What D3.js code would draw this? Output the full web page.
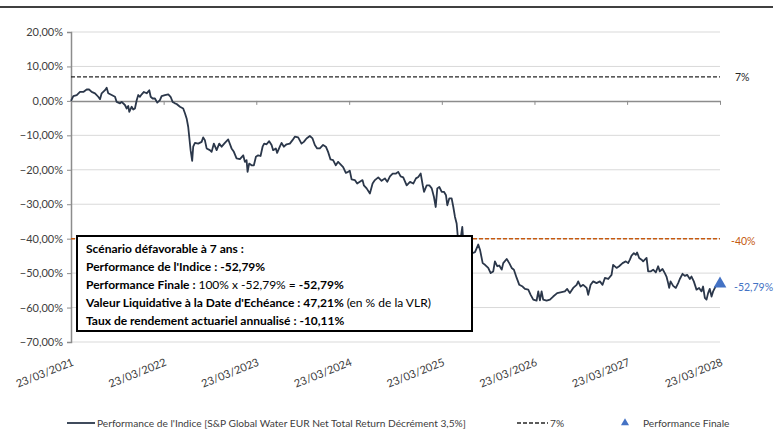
<!DOCTYPE html>
<html>
<head>
<meta charset="utf-8">
<script src="https://cdn.jsdelivr.net/npm/d3@7"></script>
<style>
  body { margin: 0; background: #fff; }
  svg { display: block; font-family: Lato, "Open Sans", sans-serif; }
</style>
</head>
<body>
<div id="chart"></div>
<script>
var width = 774, height = 431

// y axis ticks (%)
var yTicks = [20, 10, 0, -10, -20, -30, -40, -50, -60, -70]
// anniversary dates on the x axis
var dateLabels = ["23/03/2021", "23/03/2022", "23/03/2023", "23/03/2024", "23/03/2025", "23/03/2026", "23/03/2027", "23/03/2028"]

// reference levels
var couponLevel = 7
var barrierLevel = -40
var finalPerf = -52.79

// index performance (decimal year / %)
var indexYears = [
  2021.222, 2021.247, 2021.284, 2021.319, 2021.355, 2021.391, 2021.419, 2021.445, 2021.481, 2021.516,
  2021.535, 2021.553, 2021.589, 2021.607, 2021.624, 2021.661, 2021.697, 2021.715, 2021.751, 2021.769,
  2021.804, 2021.823, 2021.840, 2021.851, 2021.877, 2021.894, 2021.912, 2021.931, 2021.948, 2021.966,
  2021.985, 2022.009, 2022.039, 2022.067, 2022.082, 2022.103, 2022.128, 2022.153, 2022.182, 2022.200,
  2022.236, 2022.272, 2022.297, 2022.319, 2022.344, 2022.362, 2022.398, 2022.433, 2022.452, 2022.470,
  2022.487, 2022.498, 2022.513, 2022.530, 2022.541, 2022.560, 2022.595, 2022.632, 2022.649, 2022.667,
  2022.686, 2022.721, 2022.740, 2022.764, 2022.794, 2022.822, 2022.848, 2022.883, 2022.919, 2022.955,
  2022.980, 2023.009, 2023.045, 2023.081, 2023.099, 2023.117, 2023.128, 2023.145, 2023.171, 2023.196,
  2023.218, 2023.242, 2023.268, 2023.290, 2023.307, 2023.333, 2023.361, 2023.387, 2023.404, 2023.433,
  2023.447, 2023.476, 2023.495, 2023.520, 2023.549, 2023.584, 2023.613, 2023.638, 2023.674, 2023.710,
  2023.735, 2023.764, 2023.800, 2023.829, 2023.854, 2023.879, 2023.908, 2023.943, 2023.973, 2023.997,
  2024.023, 2024.051, 2024.080, 2024.105, 2024.131, 2024.159, 2024.188, 2024.213, 2024.231, 2024.250,
  2024.285, 2024.310, 2024.339, 2024.368, 2024.382, 2024.412, 2024.447, 2024.476, 2024.501, 2024.537,
  2024.573, 2024.609, 2024.634, 2024.663, 2024.692, 2024.728, 2024.752, 2024.778, 2024.806, 2024.843,
  2024.879, 2024.914, 2024.943, 2024.968, 2024.994, 2025.016, 2025.030, 2025.059, 2025.087, 2025.113,
  2025.137, 2025.156, 2025.173, 2025.195, 2025.221, 2025.245, 2025.267, 2025.281, 2025.303, 2025.328,
  2025.346, 2025.364, 2025.382, 2025.393, 2025.407, 2025.425, 2025.443, 2025.461, 2025.483, 2025.507,
  2025.526, 2025.544, 2025.580, 2025.615, 2025.634, 2025.663, 2025.688, 2025.723, 2025.749, 2025.777,
  2025.795, 2025.820, 2025.842, 2025.868, 2025.885, 2025.922, 2025.950, 2025.976, 2026.000, 2026.030,
  2026.058, 2026.094, 2026.119, 2026.155, 2026.181, 2026.209, 2026.245, 2026.263, 2026.281, 2026.299,
  2026.316, 2026.353, 2026.389, 2026.424, 2026.467, 2026.515, 2026.550, 2026.575, 2026.604, 2026.640,
  2026.677, 2026.694, 2026.720, 2026.748, 2026.785, 2026.802, 2026.828, 2026.856, 2026.892, 2026.928,
  2026.957, 2026.982, 2027.018, 2027.054, 2027.071, 2027.108, 2027.136, 2027.173, 2027.208, 2027.233,
  2027.252, 2027.270, 2027.295, 2027.316, 2027.330, 2027.352, 2027.378, 2027.395, 2027.432, 2027.449,
  2027.475, 2027.503, 2027.532, 2027.557, 2027.575, 2027.604, 2027.629, 2027.647, 2027.665, 2027.676,
  2027.691, 2027.719, 2027.748, 2027.773, 2027.791, 2027.820, 2027.845, 2027.870, 2027.899, 2027.917,
  2027.942, 2027.971, 2027.999, 2028.025, 2028.042, 2028.061, 2028.079, 2028.096, 2028.114, 2028.133,
  2028.150, 2028.176, 2028.222
]
var indexValues = [
  0.0, 1.4, 1.7, 2.6, 2.6, 3.3, 3.3, 2.6, 2.2, 1.2,
  0.5, 2.2, 3.1, 3.8, 2.2, 1.7, 1.2, -0.3, -0.7, -0.3,
  -1.2, -2.2, -1.5, -3.2, -1.7, -2.5, -2.2, 0.2, 1.7, 1.2,
  1.9, 2.6, 2.2, 3.1, 1.2, 0.7, 0.7, -0.5, 0.2, 1.4,
  1.7, 1.9, 1.2, -0.3, -0.7, -0.9, -1.7, -2.2, -3.6, -5.1,
  -7.5, -10.4, -14.3, -17.4, -13.3, -12.2, -12.4, -11.9, -10.6, -11.4,
  -13.8, -14.3, -14.8, -12.4, -14.3, -12.4, -13.3, -12.2, -11.2, -13.8,
  -14.8, -16.7, -16.9, -15.8, -17.7, -17.2, -20.6, -18.2, -18.7, -18.7,
  -16.2, -15.8, -16.0, -13.3, -12.4, -12.6, -11.7, -12.8, -14.3, -13.8,
  -15.1, -13.3, -12.2, -13.3, -12.6, -12.4, -11.4, -10.4, -10.6, -12.4,
  -11.9, -10.9, -10.2, -10.9, -12.8, -13.8, -13.8, -12.8, -13.3, -14.8,
  -17.0, -17.2, -18.7, -17.7, -18.4, -19.2, -20.9, -20.6, -20.3, -22.8,
  -23.0, -24.0, -23.5, -23.0, -24.5, -25.4, -26.9, -24.0, -23.0, -22.2,
  -23.2, -22.5, -23.5, -21.9, -21.1, -21.1, -20.6, -21.9, -22.2, -24.5,
  -23.5, -24.0, -22.5, -22.1, -21.1, -24.5, -26.4, -24.5, -24.5, -25.4,
  -27.9, -30.8, -25.4, -25.0, -26.4, -26.4, -27.4, -30.3, -28.3, -28.3,
  -30.8, -33.7, -35.6, -39.0, -43.9, -40.0, -36.6, -43.9, -41.0, -41.4,
  -39.5, -44.3, -43.9, -41.7, -43.2, -47.1, -47.6, -48.5, -50.0, -49.5,
  -46.6, -48.0, -47.8, -49.0, -47.1, -45.9, -47.1, -48.5, -49.0, -51.4,
  -53.4, -53.9, -54.6, -54.8, -56.3, -57.7, -58.0, -55.3, -57.9, -55.3,
  -57.7, -58.0, -57.7, -56.8, -55.8, -55.5, -55.3, -54.6, -55.8, -54.3,
  -53.4, -52.4, -53.9, -53.4, -54.3, -56.3, -53.4, -52.4, -52.9, -52.4,
  -53.4, -51.4, -51.7, -50.5, -47.6, -48.5, -48.0, -47.1, -46.6, -47.1,
  -46.1, -44.9, -44.2, -44.7, -44.0, -45.6, -46.1, -46.6, -45.6, -49.5,
  -49.5, -49.0, -49.8, -48.0, -49.5, -48.8, -50.0, -51.0, -52.9, -54.3,
  -52.4, -53.7, -54.3, -52.9, -51.7, -50.2, -50.8, -50.5, -51.7, -51.0,
  -52.4, -54.8, -54.3, -55.3, -53.9, -57.2, -57.7, -55.8, -54.6, -56.8,
  -55.3, -53.9, -52.79
]

var boxLines = [
  [{t: "Scénario défavorable à 7 ans :", b: true}],
  [{t: "Performance de l'Indice : -52,79%", b: true}],
  [{t: "Performance Finale : ", b: true}, {t: "100% x -52,79% = ", b: false}, {t: "-52,79%", b: true}],
  [{t: "Valeur Liquidative à la Date d'Echéance : 47,21% ", b: true}, {t: "(en % de la VLR)", b: false}],
  [{t: "Taux de rendement actuariel annualisé : -10,11%", b: true}]
]

var legendLabels = ["Performance de l'Indice [S&P Global Water EUR Net Total Return Décrément 3,5%]", "7%", "Performance Finale"]

var parseDate = d3.timeParse("%d/%m/%Y")
function yearToDate(t) {
  var yr = Math.floor(t)
  var s = Date.UTC(yr, 0, 1), e = Date.UTC(yr + 1, 0, 1)
  return new Date(s + (t - yr) * (e - s))
}
var series = indexYears.map(function(t, i) { return {date: yearToDate(t), value: indexValues[i]} })
var tickDates = dateLabels.map(parseDate)

var x = d3.scaleTime().domain([tickDates[0], tickDates[tickDates.length - 1]]).range([71, 720])
var y = d3.scaleLinear().domain([-70, 20]).range([342, 32])

var svg = d3.select("#chart").append("svg").attr("width", width).attr("height", height)

// top border
svg.append("line").attr("x1", 0).attr("x2", 773).attr("y1", 7).attr("y2", 7)
  .attr("stroke", "#000").attr("stroke-width", 1.5)

// gridlines
svg.append("g").selectAll("line")
  .data(yTicks.filter(function(d) { return d != 0 }))
  .enter().append("line")
  .attr("x1", 71).attr("x2", 720)
  .attr("y1", function(d) { return y(d) }).attr("y2", function(d) { return y(d) })
  .attr("stroke", "#d9d9d9").attr("stroke-width", 1)

// y axis
var yAxis = svg.append("g").attr("transform", "translate(71,0)")
  .call(d3.axisLeft(y).tickValues(yTicks).tickSize(4).tickPadding(4)
    .tickFormat(function(d) { return d3.format(".2f")(d).replace(".", ",") + "%" }))
yAxis.select(".domain").attr("stroke", "#8c8c8c").attr("stroke-width", 1.5)
yAxis.selectAll(".tick line").attr("stroke", "#8c8c8c")
yAxis.selectAll("text").attr("fill", "#404040").style("font-size", "11px").style("font-family", "Lato")

// x axis on the 0% line
var xAxis = svg.append("g").attr("transform", "translate(0," + y(0) + ")")
  .call(d3.axisBottom(x).tickValues(tickDates).tickSize(4).tickSizeOuter(0).tickFormat(""))
xAxis.select(".domain").attr("stroke", "#8c8c8c").attr("stroke-width", 1.5)
xAxis.selectAll(".tick line").attr("stroke", "#8c8c8c")

// date labels at the bottom
var xLab = svg.append("g").attr("transform", "translate(0,365)")
  .call(d3.axisBottom(x).tickValues(tickDates).tickSize(0)
    .tickFormat(function(d, i) { return dateLabels[i] }))
xLab.select(".domain").remove()
xLab.selectAll("text")
  .attr("y", 0).attr("dy", 0)
  .attr("text-anchor", "end")
  .attr("transform", "translate(3,0) rotate(-22)")
  .attr("fill", "#404040").style("font-size", "11px").style("font-family", "Lato")

// 7% dashed line
svg.append("line").attr("x1", 71).attr("x2", 720)
  .attr("y1", y(couponLevel)).attr("y2", y(couponLevel))
  .attr("stroke", "#262626").attr("stroke-width", 1.3).attr("stroke-dasharray", "4,2")
svg.append("text").attr("x", 735).attr("y", y(couponLevel) + 4)
  .attr("font-size", "10.5px").attr("fill", "#262626").text("7%")

// -40% barrier
svg.append("line").attr("x1", 71).attr("x2", 720)
  .attr("y1", y(barrierLevel)).attr("y2", y(barrierLevel))
  .attr("stroke", "#c55a11").attr("stroke-width", 1.5).attr("stroke-dasharray", "4,2")
svg.append("text").attr("x", 731).attr("y", y(barrierLevel) + 6)
  .attr("font-size", "10.5px").attr("fill", "#c55a11").text("-40%")

// index line
var line = d3.line().x(function(d) { return x(d.date) }).y(function(d) { return y(d.value) })
svg.append("path").datum(series)
  .attr("fill", "none").attr("stroke", "#2b374a").attr("stroke-width", 1.8)
  .attr("stroke-linejoin", "round")
  .attr("d", line)

// final performance marker
var tri = d3.symbol().type(d3.symbolTriangle).size(70)
svg.append("path").attr("d", tri)
  .attr("transform", "translate(" + x(tickDates[tickDates.length - 1]) + "," + (y(finalPerf) + 1) + ")")
  .attr("fill", "#4472c4")
svg.append("text").attr("x", 734).attr("y", y(finalPerf) + 8)
  .attr("font-size", "10.5px").attr("fill", "#4472c4").text("-52,79%")

// scenario box
svg.append("rect").attr("x", 77).attr("y", 236).attr("width", 395).attr("height", 95)
  .attr("fill", "#fff").attr("stroke", "#000").attr("stroke-width", 2)
var bt = svg.append("g")
boxLines.forEach(function(parts, i) {
  var t = bt.append("text").attr("x", 86).attr("y", 253 + i * 18)
    .attr("font-size", "12px").attr("fill", "#000")
  parts.forEach(function(p) {
    t.append("tspan").attr("font-weight", p.b ? "bold" : "normal").text(p.t)
  })
})

// legend
var lg = svg.append("g").attr("transform", "translate(0,423)")
lg.append("line").attr("x1", 67).attr("x2", 95).attr("stroke", "#2b374a").attr("stroke-width", 1.8)
lg.append("text").attr("x", 97).attr("y", 3.5).attr("font-size", "10.2px").attr("fill", "#404040").text(legendLabels[0])
lg.append("line").attr("x1", 517).attr("x2", 548).attr("stroke", "#262626").attr("stroke-width", 1.3).attr("stroke-dasharray", "4,2")
lg.append("text").attr("x", 550).attr("y", 3.5).attr("font-size", "10.2px").attr("fill", "#404040").text(legendLabels[1])
lg.append("path").attr("d", d3.symbol().type(d3.symbolTriangle).size(28)).attr("transform", "translate(625,0)").attr("fill", "#4472c4")
lg.append("text").attr("x", 643).attr("y", 3.5).attr("font-size", "10.2px").attr("fill", "#404040").text(legendLabels[2])
</script>
</body>
</html>
